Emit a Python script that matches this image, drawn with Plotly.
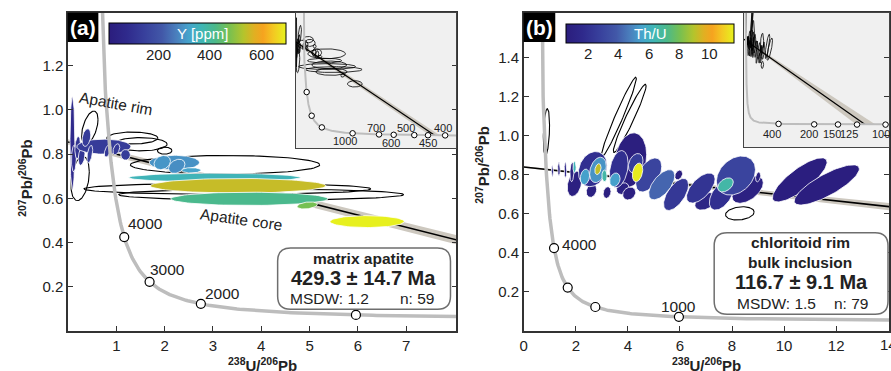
import numpy as np
import plotly.graph_objects as go

W, H = 891, 371
FONT = "Liberation Sans, Arial, sans-serif"

# ---------------------------------------------------------------- constants
L238 = 1.55125e-10
L235 = 9.8485e-10
U_RATIO = 137.88

# ---------------------------------------------------------------- panel (a): matrix apatite
a_age, a_age_err = 429.3, 14.7
a_common_pb = 0.855
a_msdw, a_n = 1.2, 59
a_marker_ages = [4000, 3000, 2000, 1000]
a_marker_labels = ["4000", "3000", "2000"]
a_inset_ages = [4000, 3000, 2000, 1000, 700, 600, 500, 450, 400]
a_inset_labels = ["1000", "700", "600", "500", "450", "400"]
a_cbar_ticks = [200, 400, 600]

# error ellipses: centre, half-widths, correlation, Y [ppm] (None = unfilled)
a_x = [0.25, 0.45, 1.33, 1.50, 2.00, 3.25, 3.30, 4.00,
       0.09, 0.12, 0.20, 0.28, 0.74, 0.38, 0.45, 0.82, 1.00, 1.19,
       2.20, 1.95, 2.25, 2.55, 3.03, 3.52, 3.75, 4.95, 6.19]
a_y = [0.690, 0.920, 0.873, 0.845, 0.816, 0.752, 0.643, 0.617,
       0.850, 0.780, 0.830, 0.790, 0.834, 0.875, 0.800, 0.815, 0.822, 0.797,
       0.762, 0.762, 0.745, 0.727, 0.694, 0.657, 0.598, 0.568, 0.495]
a_sx = [0.19, 0.17, 0.53, 0.55, 0.15, 1.96, 2.97, 2.95,
        0.05, 0.05, 0.06, 0.07, 0.56, 0.09, 0.06, 0.07, 0.07, 0.10,
        0.52, 0.17, 0.17, 0.20, 1.78, 1.82, 1.63, 0.21, 0.77]
a_sy = [0.100, 0.075, 0.027, 0.030, 0.016, 0.042, 0.025, 0.025,
        0.210, 0.060, 0.050, 0.040, 0.034, 0.040, 0.040, 0.028, 0.025, 0.024,
        0.033, 0.032, 0.032, 0.012, 0.020, 0.033, 0.030, 0.016, 0.027]
a_rho = [0.3, 0.5, 0.0, 0.0, 0.0, 0.0, 0.0, 0.0,
         0.0, 0.1, 0.2, 0.3, 0.0, 0.3, 0.5, 0.5, 0.4, 0.0,
         0.0, 0.2, 0.3, 0.0, 0.0, 0.0, 0.0, 0.3, 0.0]
a_val = [None, None, None, None, None, None, None, None,
         80, 90, 110, 120, 134, 134, 140, 125, 125, 134,
         295, 300, 290, 320, 360, 544, 415, 470, 688]

# ---------------------------------------------------------------- panel (b): chloritoid rim
b_age, b_age_err = 116.7, 9.1
b_common_pb = 0.841
b_msdw, b_n = 1.5, 79
b_marker_ages = [4000, 3000, 2000, 1000]
b_inset_ages = [400, 200, 150, 125, 100]
b_inset_labels = ["400", "200", "150", "125", "100"]
b_cbar_ticks = [2, 4, 6, 8, 10]
b_xticks = [0, 2, 4, 6, 8, 10, 12, 14]

b_x = [0.87, 3.65, 4.07, 8.30,
       4.10, 10.60, 11.64, 8.60, 9.00, 7.00, 7.60, 6.80, 5.85, 5.95, 8.15, 7.75,
       4.80, 5.30, 1.95, 2.60, 3.20, 3.80, 4.05, 2.65, 3.65, 4.30, 2.35, 2.85,
       2.85, 3.10, 3.50, 4.37, 1.10, 1.35, 1.60, 1.85, 1.95, 0.86]
b_y = [1.020, 1.096, 1.090, 0.603,
       0.876, 0.775, 0.749, 0.725, 0.790, 0.665, 0.697, 0.733, 0.700, 0.800, 0.797, 0.749,
       0.800, 0.750, 0.755, 0.720, 0.710, 0.730, 0.705, 0.830, 0.830, 0.860, 0.790, 0.826,
       0.830, 0.795, 0.775, 0.813, 0.820, 0.830, 0.825, 0.815, 0.840, 0.846]
b_sx = [0.12, 0.675, 0.63, 0.55,
        0.62, 1.05, 1.25, 0.60, 0.10, 0.43, 0.47, 0.55, 0.48, 0.15, 0.75, 0.30,
        0.50, 0.50, 0.28, 0.20, 0.15, 0.24, 0.25, 0.55, 0.36, 0.28, 0.18, 0.32,
        0.12, 0.10, 0.20, 0.20, 0.04, 0.05, 0.05, 0.08, 0.06, 0.03]
b_sy = [0.120, 0.205, 0.175, 0.034,
        0.140, 0.113, 0.103, 0.070, 0.025, 0.045, 0.077, 0.077, 0.082, 0.025, 0.100, 0.036,
        0.087, 0.077, 0.065, 0.035, 0.030, 0.030, 0.033, 0.090, 0.095, 0.050, 0.040, 0.065,
        0.028, 0.030, 0.035, 0.048, 0.030, 0.035, 0.040, 0.050, 0.030, 0.022]
b_rho = [0.3, 0.97, 0.96, 0.2,
         0.2, 0.8, 0.8, 0.5, 0.3, 0.4, 0.5, 0.6, 0.6, 0.3, 0.3, 0.4,
         0.5, 0.6, 0.3, 0.2, 0.2, 0.2, 0.2, 0.2, 0.3, 0.3, 0.2, 0.3,
         0.3, 0.0, 0.2, 0.3, 0.0, 0.0, 0.0, 0.2, 0.0, 0.0]
b_val = [None, None, None, None,
         0.8, 0.75, 0.75, 1.0, 1.0, 1.3, 2.0, 2.2, 2.4, 0.8, 3.0, 6.6,
         3.0, 4.2, 0.9, 1.0, 0.9, 1.0, 0.9, 2.0, 2.0, 2.6, 5.5, 5.2,
         9.1, 6.6, 5.5, 11.4, 1.5, 1.2, 1.6, 1.0, 6.2, 7.0]

# ---------------------------------------------------------------- colour scale
cscale = [[0.00, "#2b1d7d"], [0.10, "#2f2a8c"], [0.20, "#38409c"], [0.30, "#4258a8"],
          [0.38, "#4a7fbd"], [0.45, "#46a3cc"], [0.52, "#3fb6b6"], [0.60, "#4cb98a"],
          [0.68, "#78c050"], [0.76, "#b4c42c"], [0.82, "#e0b022"], [0.87, "#f6a31f"],
          [0.93, "#f3c922"], [1.00, "#e6f21e"]]
a_cmin, a_cmax = 12, 690
b_cmin, b_cmax = 0.64, 11.53


def hex_rgb(h):
    h = h.lstrip("#")
    return [int(h[i:i + 2], 16) for i in (0, 2, 4)]


def color_at(v, vmin, vmax):
    f = min(max((v - vmin) / (vmax - vmin), 0.0), 1.0)
    for (f0, c0), (f1, c1) in zip(cscale[:-1], cscale[1:]):
        if f <= f1:
            w = (f - f0) / (f1 - f0) if f1 > f0 else 0
            r0, r1 = hex_rgb(c0), hex_rgb(c1)
            c = [round(r0[k] + w * (r1[k] - r0[k])) for k in range(3)]
            return "rgb(%d,%d,%d)" % tuple(c)
    return cscale[-1][1]


def concordia(t_ma):
    t = np.asarray(t_ma, float) * 1e6
    e8 = np.expm1(L238 * t)
    e5 = np.expm1(L235 * t)
    return 1.0 / e8, e5 / e8 / U_RATIO


def ellipse_xy(cx, cy, sx, sy, rho, n=90):
    t = np.linspace(0, 2 * np.pi, n)
    x = cx + sx * np.cos(t)
    y = cy + sy * (rho * np.cos(t) + np.sqrt(1 - rho ** 2) * np.sin(t))
    return x, y


def px(x):
    return x / W


def py(y):
    return (H - y) / H


fig = go.Figure()


def add_tw_panel(xa, ya, age, err, y0, e0, ex, ey, esx, esy, erho, evals,
                 vmin, vmax, marker_ages, inset=False):
    ax = dict(xaxis=xa, yaxis=ya, showlegend=False, hoverinfo="skip")
    # discordia envelope from the age uncertainty
    xu, yu = concordia(age - err)
    xl, yl = concordia(age + err)
    fig.add_trace(go.Scatter(x=[0, float(xu), float(xl), 0], y=[y0 + e0, float(yu), float(yl), y0 - e0],
                             fill="toself", fillcolor="#cdc8bf", line=dict(width=0), mode="lines", **ax))
    xi, yi = concordia(age)
    fig.add_trace(go.Scatter(x=[0, float(xi)], y=[y0, float(yi)], mode="lines",
                             line=dict(color="black", width=1.2 if inset else 1.6), **ax))
    # ellipses: unfilled first, then filled
    for i in range(len(ex)):
        if evals[i] is None or inset:
            x, y = ellipse_xy(ex[i], ey[i], esx[i], esy[i], erho[i])
            fig.add_trace(go.Scatter(x=x, y=y, mode="lines",
                                     line=dict(color="black", width=0.8 if inset else 1.1), **ax))
    if not inset:
        for i in range(len(ex)):
            if evals[i] is not None:
                x, y = ellipse_xy(ex[i], ey[i], esx[i], esy[i], erho[i])
                fig.add_trace(go.Scatter(x=x, y=y, mode="lines", fill="toself",
                                         fillcolor=color_at(evals[i], vmin, vmax),
                                         line=dict(color="white", width=0.8), **ax))
    # concordia curve and age markers
    cx, cy = concordia(np.geomspace(15, 7500, 500))
    fig.add_trace(go.Scatter(x=cx, y=cy, mode="lines",
                             line=dict(color="#bdbdbd", width=2 if inset else 3.5), **ax))
    mx, my = concordia(marker_ages)
    fig.add_trace(go.Scatter(x=mx, y=my, mode="markers",
                             marker=dict(size=5.5 if inset else 9, color="white",
                                         line=dict(color="black", width=1 if inset else 1.2)), **ax))


# main panels
add_tw_panel("x", "y", a_age, a_age_err, a_common_pb, 0.012, a_x, a_y, a_sx, a_sy, a_rho, a_val,
             a_cmin, a_cmax, a_marker_ages)
add_tw_panel("x2", "y2", b_age, b_age_err, b_common_pb, 0.004, b_x, b_y, b_sx, b_sy, b_rho, b_val,
             b_cmin, b_cmax, b_marker_ages)
# insets
add_tw_panel("x3", "y3", a_age, a_age_err, a_common_pb, 0.012, a_x, a_y, a_sx, a_sy, a_rho, a_val,
             a_cmin, a_cmax, a_inset_ages, inset=True)
add_tw_panel("x4", "y4", b_age, b_age_err, b_common_pb, 0.004, b_x, b_y, b_sx, b_sy, b_rho, b_val,
             b_cmin, b_cmax, b_inset_ages, inset=True)

ann = []


def txt(x, y, s, size=15.5, bold=False, color="#222", xref="paper", yref="paper", angle=0,
        xanchor="center"):
    ann.append(dict(x=x, y=y, xref=xref, yref=yref, text="<b>%s</b>" % s if bold else s,
                    showarrow=False, textangle=angle, xanchor=xanchor, yanchor="middle",
                    font=dict(size=size, color=color, family=FONT)))


# colour bars (tick labels placed as text just under the bar)
def add_colorbar(xa, ya, vmin, vmax, cx, top, length, thick, ticks):
    fig.add_trace(go.Scatter(
        x=[-100, -100], y=[-100, -100], xaxis=xa, yaxis=ya, mode="markers", showlegend=False,
        hoverinfo="skip",
        marker=dict(color=[vmin, vmax], cmin=vmin, cmax=vmax, colorscale=cscale, showscale=True,
                    colorbar=dict(orientation="h", x=px(cx), xanchor="center", y=py(top), yanchor="top",
                                  len=length, lenmode="pixels", thickness=thick, thicknessmode="pixels",
                                  outlinecolor="black", outlinewidth=1, tickvals=ticks, ticks="",
                                  showticklabels=False, xpad=0, ypad=0))))
    left = cx - length / 2
    for v in ticks:
        tx = left + (v - vmin) / (vmax - vmin) * length
        txt(px(tx), py(top + thick + 10), str(v), size=15)


add_colorbar("x", "y", a_cmin, a_cmax, 194.5, 23.3, 177, 21, a_cbar_ticks)
add_colorbar("x2", "y2", b_cmin, b_cmax, 650.5, 24.3, 167.6, 19, b_cbar_ticks)

# ---------------------------------------------------------------- axes
axis_main = dict(showline=True, linecolor="#333", linewidth=1.5, ticks="inside", ticklen=5,
                 tickcolor="#333", tickwidth=1.2, showgrid=False, zeroline=False,
                 tickfont=dict(size=15, color="#222", family=FONT))
axis_inset = dict(showline=True, linecolor="#444", linewidth=1, mirror=True, ticks="",
                  showticklabels=False, showgrid=False, zeroline=False)

ytop, ybot = 12.7, 331
fig.update_layout(
    width=W, height=H, margin=dict(l=0, r=0, t=0, b=0),
    paper_bgcolor="white", plot_bgcolor="rgba(0,0,0,0)", showlegend=False,
    font=dict(family=FONT, color="#222"),
    xaxis=dict(axis_main, domain=[px(64.5), px(455.5)], range=[0, 8.04], anchor="y",
               tickvals=[1, 2, 3, 4, 5, 6, 7], mirror=True),
    yaxis=dict(axis_main, domain=[py(ybot), py(ytop)], range=[0, 1.44], anchor="x",
               tickvals=[0.2, 0.4, 0.6, 0.8, 1.0, 1.2], tickformat=".1f", mirror="ticks"),
    xaxis2=dict(axis_main, domain=[px(523.3), 1.0], range=[0, 14.03], anchor="y2",
                tickvals=b_xticks, ticktext=[str(v) if v < 14 else "" for v in b_xticks], mirror=True),
    yaxis2=dict(axis_main, domain=[py(ybot), py(ytop)], range=[0, 1.632], anchor="x2",
                tickvals=[0.2, 0.4, 0.6, 0.8, 1.0, 1.2, 1.4], tickformat=".1f", mirror="ticks"),
    xaxis3=dict(axis_inset, domain=[px(293.5), px(455.5)], range=[0, 16.8], anchor="y3"),
    yaxis3=dict(axis_inset, domain=[py(148), py(ytop)], range=[-0.053, 1.103], anchor="x3"),
    xaxis4=dict(axis_inset, domain=[px(745), 1.0], range=[0, (W - 745) / 2.228], anchor="y4"),
    yaxis4=dict(axis_inset, domain=[py(147), py(ytop)], range=[-0.16, 1.088], anchor="x4"),
)

shapes = []
for ax in ("x3", "x4"):
    yy = ax.replace("x", "y")
    shapes.append(dict(type="rect", xref=ax + " domain", yref=yy + " domain", x0=0, x1=1, y0=0, y1=1,
                       fillcolor="#f0f0f0", line=dict(width=0), layer="below"))

# panel tags
for (x0, x1) in ((64, 95), (523, 555)):
    shapes.append(dict(type="rect", xref="paper", yref="paper", x0=px(x0), x1=px(x1),
                       y0=py(42), y1=py(ytop), fillcolor="black", line=dict(width=0)))


def rounded_box(x0, y0, x1, y1, r):
    pts = [("M", x0 + r, y0), ("L", x1 - r, y0), ("Q", x1, y0, x1, y0 + r), ("L", x1, y1 - r),
           ("Q", x1, y1, x1 - r, y1), ("L", x0 + r, y1), ("Q", x0, y1, x0, y1 - r),
           ("L", x0, y0 + r), ("Q", x0, y0, x0 + r, y0)]
    path = ""
    for p in pts:
        c = p[0]
        coords = p[1:]
        s = " ".join("%.5f,%.5f" % (px(coords[k]), py(coords[k + 1])) for k in range(0, len(coords), 2))
        path += "%s %s " % (c, s)
    return dict(type="path", xref="paper", yref="paper", path=path + "Z",
                fillcolor="white", line=dict(color="#6e6e6e", width=1.5))


shapes.append(rounded_box(275.5, 248, 449.5, 309.3, 13))
shapes.append(rounded_box(715, 232.7, 890, 314.3, 13))
fig.update_layout(shapes=shapes)

# ---------------------------------------------------------------- text
txt(px(79.5), py(27), "(a)", size=21, bold=True, color="white")
txt(px(539), py(27), "(b)", size=21, bold=True, color="white")
txt(px(200), py(33.5), "Y [ppm]", size=15, color="white")
txt(px(651), py(33.5), "Th/U", size=15, color="white")

# last x tick label of panel (b) sits on the page edge
txt(b_xticks[-1], py(344), str(b_xticks[-1]), size=15, xref="x2")

# axis titles
xt = "<sup>238</sup>U/<sup>206</sup>Pb"
yt = "<sup>207</sup>Pb/<sup>206</sup>Pb"
txt(px(260), py(364), xt, size=15, bold=True)
txt(px(707), py(364), xt, size=15, bold=True)
txt(px(21), py(178), yt, size=15, bold=True, angle=-90)
txt(px(481), py(165), yt, size=15, bold=True, angle=-90)

# concordia age labels
for s, (lx, ly) in zip(a_marker_labels, [(1.6, 0.486), (2.06, 0.277), (3.19, 0.168)]):
    txt(lx, ly, s, xref="x", yref="y")
txt(2.13, 0.446, "4000", xref="x2", yref="y2")
txt(5.93, 0.128, "1000", xref="x2", yref="y2")

# inset age labels
for s, (lx, ly) in zip(a_inset_labels, [(5.2, 0.007), (8.43, 0.118), (10.0, -0.006),
                                        (11.53, 0.118), (13.86, -0.01), (15.38, 0.118)]):
    txt(lx, ly, s, size=11, xref="x3", yref="y3")
for s, lx in zip(b_inset_labels, [12.66, 29.5, 39.6, 47.5, 62.0]):
    txt(lx, -0.039, s, size=11, xref="x4", yref="y4")

txt(0.99, 1.03, "Apatite rim", xref="x", yref="y", angle=10)
txt(3.59, 0.505, "Apatite core", xref="x", yref="y", angle=8)

# result boxes
txt(px(361.7), py(258.3), "matrix apatite", size=15.5, bold=True)
txt(px(362), py(277.5), "%.1f ± %.1f Ma" % (a_age, a_age_err), size=20, bold=True)
txt(px(286), py(298), "MSDW: %.1f" % a_msdw, xanchor="left")
txt(px(435), py(298), "n: %d" % a_n, xanchor="right")

txt(px(801.7), py(242.7), "chloritoid rim", size=15.5, bold=True)
txt(px(801.7), py(262.7), "bulk inclusion", size=15.5, bold=True)
txt(px(802.5), py(281.5), "%.1f ± %.1f Ma" % (b_age, b_age_err), size=20, bold=True)
txt(px(736), py(303.3), "MSDW: %.1f" % b_msdw, xanchor="left")
txt(px(871.7), py(303.3), "n: %d" % b_n, xanchor="right")

fig.update_layout(annotations=ann)
fig.write_html("out.html")
